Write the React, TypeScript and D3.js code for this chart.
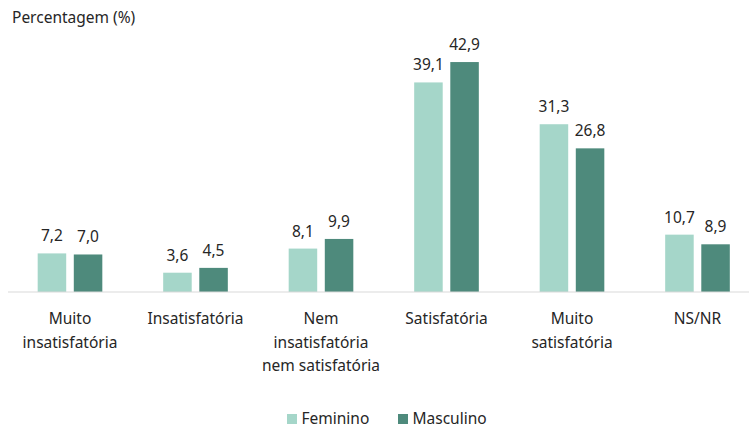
import React from "react";
import * as d3 from "d3";

const categories: string[][] = [
  ["Muito", "insatisfatória"],
  ["Insatisfatória"],
  ["Nem", "insatisfatória", "nem satisfatória"],
  ["Satisfatória"],
  ["Muito", "satisfatória"],
  ["NS/NR"],
];
const seriesNames = ["Feminino", "Masculino"];
const feminino = [7.2, 3.6, 8.1, 39.1, 31.3, 10.7];
const masculino = [7.0, 4.5, 9.9, 42.9, 26.8, 8.9];
const colors = ["#A5D6C9", "#4E8A7C"];
const yTitle = "Percentagem (%)";

const W = 749;
const H = 428;
const FONT = "'Noto Sans', 'Open Sans', sans-serif";

export default function App() {
  const keys = categories.map((c) => c.join(" "));
  const x = d3
    .scaleBand<string>()
    .domain(keys)
    .range([7.25, 760.25])
    .paddingInner(0.485)
    .paddingOuter(0.2425);
  const xs = d3
    .scaleBand<string>()
    .domain(seriesNames)
    .range([0, x.bandwidth()])
    .paddingInner(0.21);
  const y = d3.scaleLinear().domain([0, 50]).range([292, 24]);
  const data = [feminino, masculino];
  const fmt = (v: number) => v.toFixed(1).replace(".", ",");

  return (
    <svg width={W} height={H} style={{ display: "block", position: "absolute", left: 0, top: 0 }} fontFamily={FONT}>
      <rect width={W} height={H} fill="#fff" />
      <text x={12} y={23} fontSize={15.5} fill="#262626">{yTitle}</text>
      {keys.map((k, i) => (
        <g key={k}>
          {seriesNames.map((s, j) => {
            const v = data[j][i];
            const bx = (x(k) ?? 0) + (xs(s) ?? 0);
            return (
              <g key={s}>
                <rect x={bx} y={y(v)} width={xs.bandwidth()} height={y(0) - y(v)} fill={colors[j]} />
                <text x={bx + xs.bandwidth() / 2} y={y(v) - 12} textAnchor="middle" fontSize={15.5} fill="#262626">
                  {fmt(v)}
                </text>
              </g>
            );
          })}
          {categories[i].map((line, li) => (
            <text key={li} x={(x(k) ?? 0) + x.bandwidth() / 2} y={324 + li * 23.5} textAnchor="middle" fontSize={15.5} fill="#262626">
              {line}
            </text>
          ))}
        </g>
      ))}
      <line x1={8} x2={W} y1={y(0)} y2={y(0)} stroke="#D9D9D9" strokeWidth={1} />
      {seriesNames.map((s, j) => {
        const lx = [287, 398][j];
        return (
          <g key={s}>
            <rect x={lx} y={414} width={10} height={10} fill={colors[j]} />
            <text x={lx + 14.5} y={423.5} fontSize={15.5} fill="#262626">{s}</text>
          </g>
        );
      })}
    </svg>
  );
}
